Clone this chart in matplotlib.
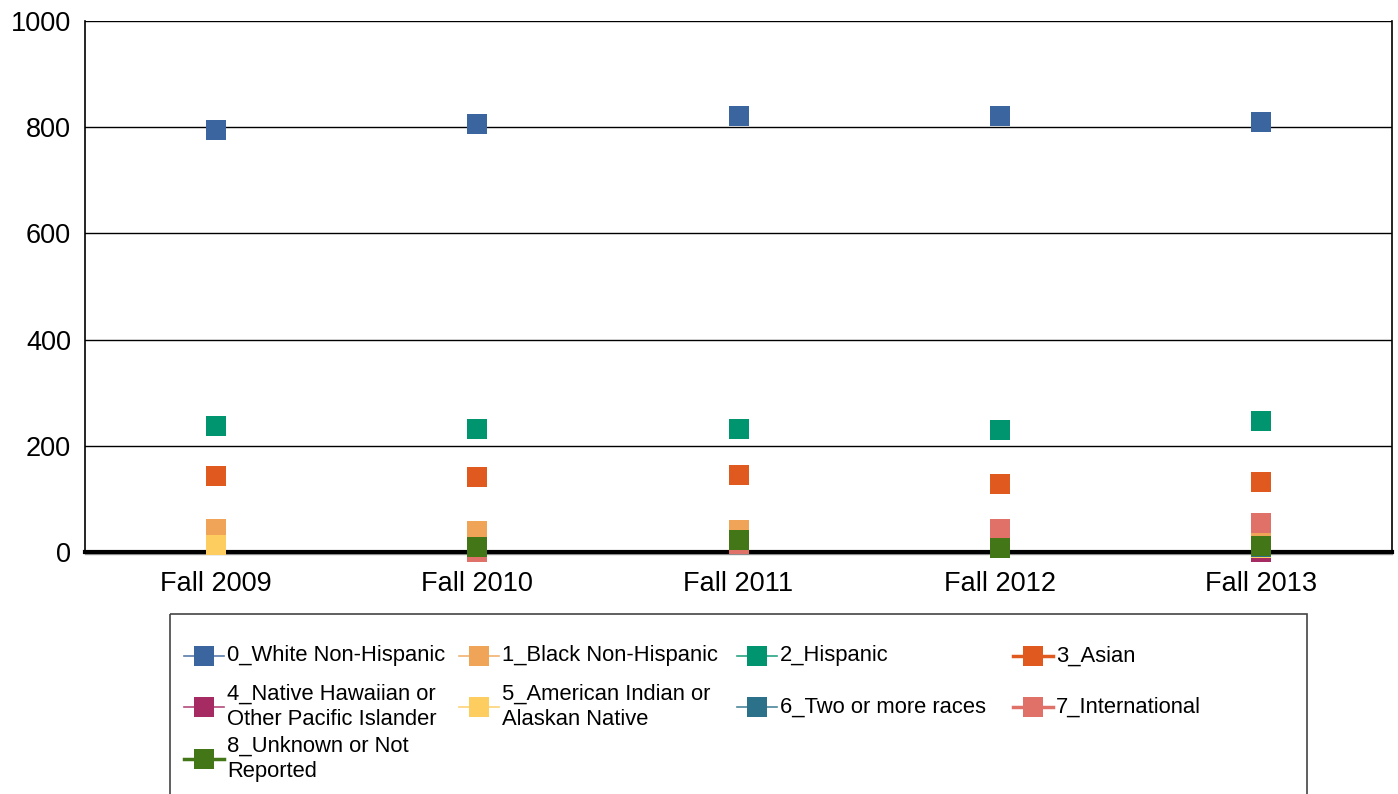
import matplotlib.pyplot as plt
import numpy as np
from matplotlib.lines import Line2D
from matplotlib.patches import Rectangle

plt.rcParams['font.family'] = ['Liberation Sans', 'DejaVu Sans']

# Data
terms = ['Fall 2009', 'Fall 2010', 'Fall 2011', 'Fall 2012', 'Fall 2013']
nan = np.nan
white = [795, 806, 821, 821, 810]
black = [44, 40, 42, nan, 30]
hispanic = [237, 232, 232, 230, 247]
asian = [143, 141, 145, 128, 132]
hawaiian = [nan, nan, nan, nan, 0]
amer_indian = [14, nan, nan, nan, 7]
two_more = [nan, nan, nan, nan, 10]
international = [nan, 0, 15, 44, 54]
unknown = [nan, 10, 22, 7, 12]

names = ['0_White Non-Hispanic', '1_Black Non-Hispanic', '2_Hispanic', '3_Asian',
         '4_Native Hawaiian or\nOther Pacific Islander', '5_American Indian or\nAlaskan Native',
         '6_Two or more races', '7_International', '8_Unknown or Not\nReported']
series = [white, black, hispanic, asian, hawaiian, amer_indian, two_more, international, unknown]
colors = ['#3B659E', '#F0A458', '#00946F', '#E05A1F', '#A62B62', '#FDCD60',
          '#2A7189', '#E07168', '#437616']
line_w = [1.2, 1.2, 1.2, 2.5, 1.2, 1.2, 1.2, 2.5, 2.5]

fig = plt.figure(figsize=(13.98, 7.94), dpi=100)
ax = fig.add_axes([85 / 1398, 1 - 552 / 794, (1392 - 85) / 1398, (552 - 21) / 794])

x = np.arange(len(terms))
for vals, c in zip(series, colors):
    ax.plot(x, vals, linestyle='none', marker='s', markersize=15, color=c,
            markeredgewidth=0, clip_on=False, zorder=5)

ax.set_xlim(-0.5, 4.5)
ax.set_ylim(0, 1000)
ax.set_yticks(range(0, 1001, 200))
ax.set_xticks(x)
ax.set_xticklabels(terms)
ax.tick_params(length=0, labelsize=19.5, colors='black')
ax.tick_params(axis='x', pad=14)
ax.tick_params(axis='y', pad=10)
ax.yaxis.grid(True, color='black', linewidth=1)
ax.set_axisbelow(True)
for s in ['left', 'right']:
    ax.spines[s].set_linewidth(1.2)
ax.spines['top'].set_visible(False)
ax.spines['bottom'].set_linewidth(3)
ax.spines['bottom'].set_zorder(4)
# faint grey shadow under the base line
ax.axhline(-4, color='#999999', linewidth=1, zorder=3, clip_on=False)

# legend drawn by hand so rows line up across columns
lax = fig.add_axes([0, 0, 1, 1])
lax.set_xlim(0, 1398)
lax.set_ylim(794, 0)
lax.axis('off')
lax.add_patch(Rectangle((170, 614), 1307 - 170, 200, fill=False, edgecolor='#444444', linewidth=1.2))

col_x = [204, 479, 757, 1033]
row_y = [656, 707, 759]
for i, (name, c, lw) in enumerate(zip(names, colors, line_w)):
    cx = col_x[i % 4]
    cy = row_y[i // 4]
    lax.add_line(Line2D([cx - 20, cx + 20], [cy, cy], color=c, linewidth=lw, alpha=0.85 if lw < 2 else 1))
    lax.plot([cx], [cy], marker='s', markersize=15, color=c, markeredgewidth=0)
    lax.text(cx + 23, cy, name, fontsize=15.8, va='center', ha='left', linespacing=1.3)

fig.savefig('out.png', dpi=100)
